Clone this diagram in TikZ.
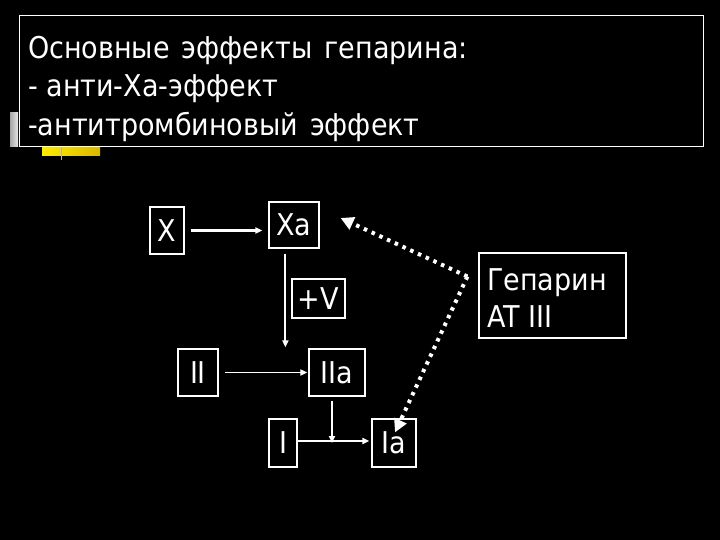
\documentclass[tikz,border=0pt]{standalone}
\usepackage{fontspec}
\setmainfont{DejaVu Sans Condensed}
\usetikzlibrary{arrows.meta}
\tikzset{
  box/.style={draw=white, line width=1.2pt, fill=black, inner sep=0pt, text=white, font=\fontsize{30}{36}\selectfont},
  ttext/.style={text=white, inner sep=0pt, anchor=base west, font=\fontsize{30}{36}\selectfont},
  arr/.style={draw=white, line width=2pt, -{Triangle[length=7pt,width=6pt]}},
  dotarr/.style={draw=white, line width=4pt, dash pattern=on 3.5pt off 5pt, -{Triangle[length=13pt,width=13pt]}},
}
\begin{document}
\begin{tikzpicture}[x=1pt,y=-1pt]
\fill[black] (0,0) rectangle (720,540);
\useasboundingbox (0,0) rectangle (720,540);
% decorations
\shade[left color=gray!70, right color=gray!20] (10,113) rectangle (18,147);
\shade[left color=yellow!85!orange, right color=yellow!70!orange!85!black] (42,147) rectangle (100,156);
\draw[gray!60, line width=1pt] (61,147) -- (61,160);
% title box
\node[draw=white, line width=1.2pt, minimum width=684pt, minimum height=131pt, inner sep=0pt, anchor=north west] (title) at (19,15) {};
\node[ttext] (t1) at (28,59) {\spaceskip=0.4em Основные эффекты гепарина:};
\node[ttext] (t2) at (28,97) {- анти-Ха-эффект};
\node[ttext] (t3) at (28,136) {\spaceskip=0.4em -антитромбиновый эффект};
% nodes
\node[box, minimum width=34pt, minimum height=47pt] (X) at (167,230.5) {X};
\node[box, minimum width=50pt, minimum height=46pt] (Xa) at (294,225) {Xa};
\node[box, minimum width=53pt, minimum height=39pt] (V) at (318.5,298.5) {+V};
\node[box, minimum width=40pt, minimum height=47pt] (II) at (198,372.5) {II};
\node[box, minimum width=56pt, minimum height=47pt] (IIa) at (337,372.5) {IIa};
\node[box, minimum width=28pt, minimum height=48pt] (I) at (283,443) {I};
\node[box, minimum width=44pt, minimum height=48pt] (Ia) at (394,443) {Ia};
\node[box, minimum width=147pt, minimum height=85pt] (H) at (552.5,295.5) {};
\node[ttext] (h1) at (487,290) {Гепарин};
\node[ttext] (h2) at (487,327) {AT III};
% connectors
\draw[arr, shorten <=6pt, shorten >=6pt] (X.east) -- (X.east -| Xa.west);
\coordinate (xdown) at ([xshift=17pt,yshift=-5pt]Xa.south west);
\draw[arr] (xdown) -- ([yshift=1pt]xdown |- IIa.north);
\draw[arr, line width=1.6pt, shorten <=6pt, shorten >=1pt] (II.east) -- (IIa.west);
\coordinate (iiad) at ([xshift=-5pt,yshift=-4pt]IIa.south);
\draw[arr, line width=1.6pt] (iiad) -- (iiad |- Ia.west);
\draw[arr, shorten >=2pt] ([yshift=2pt]I.east) -- ([yshift=2pt]Ia.west);
\coordinate (corner) at ([xshift=-11pt,yshift=19pt]H.west);
\coordinate (tipXa) at ([xshift=21pt,yshift=7pt]Xa.east);
\coordinate (tipIa) at ([xshift=1pt,yshift=-14pt]Ia.north);
\draw[dotarr] (corner) -- (tipXa);
\draw[dotarr] (corner) -- (tipIa);
\end{tikzpicture}
\end{document}
